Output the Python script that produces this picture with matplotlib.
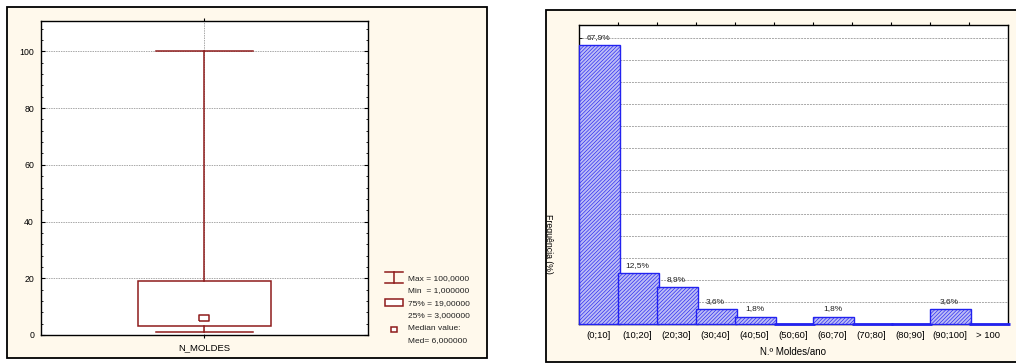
import numpy as np
import matplotlib
matplotlib.use("Agg")
import matplotlib.pyplot as plt
from matplotlib.patches import Rectangle
from matplotlib.lines import Line2D
from matplotlib.ticker import MultipleLocator

plt.rcParams['font.family'] = ['Liberation Sans', 'DejaVu Sans']
plt.rcParams['hatch.linewidth'] = 0.45

# Box-plot summary of the number of moulds per year
box_label = "N_MOLDES"
stat_min = 1.0
stat_q1 = 3.0
stat_median = 6.0
stat_q3 = 19.0
stat_max = 100.0

# Frequency distribution (percent of respondents)
bins = ["(0;10]", "(10;20]", "(20;30]", "(30;40]", "(40;50]", "(50;60]",
        "(60;70]", "(70;80]", "(80;90]", "(90;100]", "> 100"]
freq_pct = [67.9, 12.5, 8.9, 3.6, 1.8, 0.0, 1.8, 0.0, 0.0, 3.6, 0.0]
n_respondents = 56

W, H = 1016, 363
fig = plt.figure(figsize=(W / 100, H / 100), dpi=100)
fig.patch.set_facecolor('white')


def fx(x):
    return x / W


def fy(y):
    return 1 - y / H


CREAM = '#FFF9EC'
RED = '#8E1B1B'
BLUE = '#2222F0'

# Panel frames (drawn underneath the axes)
left_frame = Rectangle((fx(7), fy(358)), fx(487 - 7), (358 - 7) / H,
                       transform=fig.transFigure, facecolor=CREAM,
                       edgecolor='black', lw=1.3, zorder=-5)
right_frame = Rectangle((fx(546), fy(362)), fx(1060 - 546), (362 - 10) / H,
                        transform=fig.transFigure, facecolor=CREAM,
                        edgecolor='black', lw=1.3, zorder=-5)
fig.patches.extend([left_frame, right_frame])

# ---------------- Box plot ----------------
ax1 = fig.add_axes([fx(41), fy(335), fx(327), 314 / H])
ax1.set_facecolor('white')
stats = [dict(med=stat_median, q1=stat_q1, q3=stat_q3, whislo=stat_min,
              whishi=stat_max, fliers=[], label=box_label)]
ax1.bxp(stats, positions=[0], widths=0.404, capwidths=0.297,
        showfliers=False, patch_artist=True, manage_ticks=False,
        boxprops=dict(facecolor='white', edgecolor=RED, lw=1.1),
        whiskerprops=dict(color=RED, lw=1.1),
        capprops=dict(color=RED, lw=1.1),
        medianprops=dict(visible=False), zorder=3)
rect_marker = [(-1.45, -1), (1.45, -1), (1.45, 1), (-1.45, 1), (-1.45, -1)]
ax1.plot([0], [stat_median], marker=rect_marker, ms=6.5, mfc='white',
         mec=RED, mew=1.1, zorder=4)

ax1.set_xlim(-0.5, 0.5)
ax1.set_ylim(0, 110.7)
ax1.set_xticks([0])
ax1.set_xticklabels([box_label], fontsize=6.8)
ax1.yaxis.set_major_locator(MultipleLocator(20))
ax1.yaxis.set_minor_locator(MultipleLocator(4))
ax1.tick_params(axis='y', which='major', direction='in', length=3,
                left=True, right=True, labelsize=6.3, pad=5, width=0.8)
ax1.tick_params(axis='y', which='minor', direction='in', length=1.5,
                left=True, right=True, width=0.6)
ax1.tick_params(axis='x', direction='out', length=2, pad=4, top=True, width=0.8)
ax1.grid(True, which='major', linestyle=(0, (1.5, 1)), color='#A8A8A8', lw=0.7)
ax1.set_axisbelow(True)
for s in ax1.spines.values():
    s.set_linewidth(1.0)


def fmt(v):
    return f"{v:#.7g}".replace('.', ',')


def fline(xs, ys, **kw):
    fig.add_artist(Line2D([fx(x) for x in xs], [fy(y) for y in ys],
                          transform=fig.transFigure, **kw))


# Legend of the box plot
fline([385, 403], [272, 272], color=RED, lw=1.1)
fline([385, 403], [283, 283], color=RED, lw=1.1)
fline([394, 394], [272, 283], color=RED, lw=1.1)
fig.add_artist(Rectangle((fx(385), fy(306)), fx(18), 7 / H,
                         transform=fig.transFigure, facecolor='white',
                         edgecolor=RED, lw=1.1))
fig.add_artist(Rectangle((fx(391), fy(332)), fx(6), 5 / H,
                         transform=fig.transFigure, facecolor='white',
                         edgecolor=RED, lw=1.1))
leg_rows = [(279, f"Max = {fmt(stat_max)}"),
            (291, f"Min  = {fmt(stat_min)}"),
            (304, f"75% = {fmt(stat_q3)}"),
            (316, f"25% = {fmt(stat_q1)}"),
            (329, "Median value:"),
            (341, f"Med= {fmt(stat_median)}")]
for yy, txt in leg_rows:
    fig.text(fx(408), fy(yy), txt, fontsize=6, va='center', ha='left',
             color='#202020')

# ---------------- Histogram ----------------
ax2 = fig.add_axes([fx(579), fy(324), fx(429), 299 / H])
ax2.set_facecolor('white')
x = np.arange(len(bins))
edge_w = [1.0 if v > 0 else 2.0 for v in freq_pct]
ax2.bar(x, freq_pct, width=1.05, align='edge', facecolor='#BCBCF5',
        edgecolor=BLUE, hatch='/////////', linewidth=edge_w, clip_on=False,
        zorder=3)
ax2.set_xlim(0, len(bins))
ax2.set_ylim(0, 72.85)

grid_step = 300 / n_respondents
ax2.set_yticks(np.arange(1, 14) * grid_step)
ax2.set_yticklabels([])
ax2.tick_params(axis='y', direction='in', length=2, width=0.6)
ax2.grid(True, axis='y', linestyle=(0, (2, 1)), color='#A8A8A8', lw=0.7)
ax2.set_axisbelow(True)

ax2.set_xticks(x + 0.5)
ax2.set_xticklabels(bins, fontsize=6.8)
ax2.tick_params(axis='x', which='major', length=0, pad=5)
ax2.set_xticks(np.arange(1, len(bins)), minor=True)
ax2.tick_params(axis='x', which='minor', bottom=False, top=True,
                direction='out', length=2.5, width=0.8)
for s in ax2.spines.values():
    s.set_linewidth(1.0)

for i, v in enumerate(freq_pct):
    if v > 0:
        ax2.annotate(f"{v:.1f}%".replace('.', ','), (i + 0.5, v),
                     xytext=(0, 5.5), textcoords='offset points',
                     ha='center', va='center', fontsize=6, color='#202020')

fig.text(fx(793.5), fy(352), "N.º Moldes/ano", fontsize=7, ha='center',
         va='center')
ylab = fig.text(fx(548.5), fy(244), "Frequência (%)", fontsize=6.3,
                rotation=-90, ha='center', va='center')
ylab.set_clip_path(right_frame)

fig.savefig("out.png", dpi=100)
